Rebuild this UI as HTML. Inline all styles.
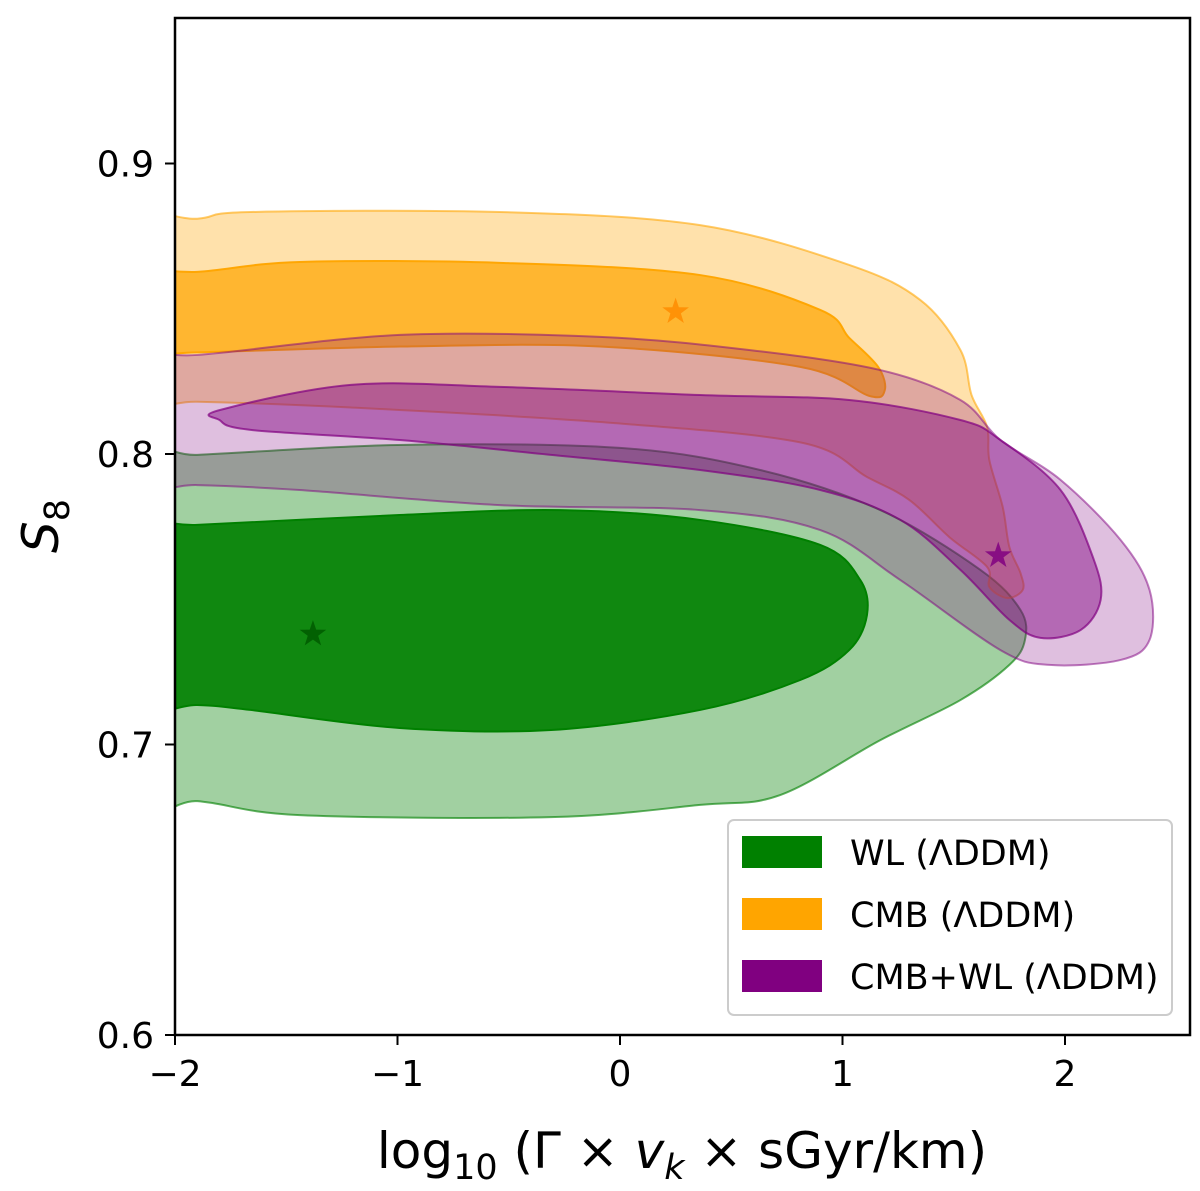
<!DOCTYPE html>
<html><head><meta charset="utf-8"><style>
body{margin:0;background:#fff;}
svg text{font-family:"DejaVu Sans","Liberation Sans",sans-serif;}
</style></head><body>
<svg id="chart" width="1200" height="1186" viewBox="0 0 1200 1186" xmlns="http://www.w3.org/2000/svg">
<defs><clipPath id="plotclip"><rect x="175" y="18" width="1015" height="1017"/></clipPath></defs>
<rect width="1200" height="1186" fill="#fff"/>
<g id="contours" clip-path="url(#plotclip)"></g>
<g id="stars"></g>
<rect x="175" y="18" width="1015" height="1017" fill="none" stroke="#000" stroke-width="2.5"/>
<g id="xticks"></g><g id="yticks"></g>
<text x="682" y="1168" font-size="50" text-anchor="middle">log<tspan font-size="35" dy="11">10</tspan><tspan dy="-11"> (Γ × </tspan><tspan font-style="italic">v</tspan><tspan font-style="italic" font-size="35" dy="11">k</tspan><tspan dy="-11"> × sGyr/km)</tspan></text>
<text transform="translate(58,526) rotate(-90)" font-size="50" text-anchor="middle"><tspan font-style="italic">S</tspan><tspan font-size="35" dy="11">8</tspan></text>
<g>
<rect x="728" y="820" width="444" height="195" rx="6" fill="#fff" fill-opacity="0.8" stroke="#ccc" stroke-width="2"/>
<rect x="742" y="836" width="80" height="32" fill="#008000"/>
<text x="850" y="865" font-size="35">WL (ΛDDM)</text>
<rect x="742" y="898" width="80" height="32" fill="#ffa500"/>
<text x="850" y="927" font-size="35">CMB (ΛDDM)</text>
<rect x="742" y="960" width="80" height="32" fill="#800080"/>
<text x="850" y="989" font-size="35">CMB+WL (ΛDDM)</text>
</g>
</svg>
<script>
const xTicks=[-2,-1,0,1,2];
const yTicks=[0.6,0.7,0.8,0.9];
const xTickLabels=["−2","−1","0","1","2"];
const yTickLabels=["0.6","0.7","0.8","0.9"];
const wlOuter=[[-2.3,0.7990],[-1.9,0.7997],[-1.0,0.8031],[0,0.8021],[0.63,0.7945],[1.17,0.7807],[1.62,0.7601],[1.80,0.7463],[1.82,0.736],[1.75,0.7274],[1.53,0.7153],[1.17,0.7015],[0.72,0.6826],[0.36,0.6792],[-0.31,0.6750],[-1.44,0.6757],[-1.9,0.6805],[-2.3,0.6810]];
const wlInner=[[-2.3,0.7750],[-1.9,0.7756],[-0.99,0.779],[-0.27,0.7807],[0.36,0.7773],[0.90,0.7687],[1.08,0.7566],[1.11,0.7446],[1.03,0.7325],[0.81,0.7222],[0.36,0.7119],[-0.31,0.705],[-0.99,0.7057],[-1.66,0.7119],[-1.9,0.7136],[-2.3,0.7140]];
const cmbOuter=[[-2.3,0.8790],[-1.9,0.8810],[-1.66,0.8833],[-0.54,0.8833],[0.36,0.8788],[1.03,0.8651],[1.35,0.853],[1.53,0.8358],[1.58,0.8203],[1.65,0.8093],[1.66,0.7979],[1.72,0.7818],[1.75,0.768],[1.80,0.759],[1.81,0.7532],[1.74,0.7504],[1.66,0.7542],[1.65,0.7611],[1.48,0.7714],[1.30,0.7842],[1.11,0.7921],[0.81,0.8040],[-0.09,0.8110],[-1.21,0.8160],[-1.9,0.8180],[-2.3,0.8180]];
const cmbInner=[[-2.3,0.8620],[-1.9,0.8627],[-1.44,0.8661],[-0.54,0.8658],[0.36,0.8616],[0.90,0.8496],[1.03,0.8400],[1.16,0.8300],[1.19,0.8220],[1.12,0.8200],[0.81,0.8300],[-0.09,0.8370],[-0.99,0.8370],[-1.9,0.8350],[-2.3,0.8350]];
const cmbwlOuter=[[-2.3,0.8335],[-1.9,0.8341],[-0.99,0.841],[-0.09,0.8403],[0.58,0.8358],[1.17,0.8289],[1.53,0.8186],[1.71,0.8048],[1.98,0.7911],[2.25,0.7704],[2.38,0.7532],[2.38,0.736],[2.25,0.7291],[1.93,0.7274],[1.71,0.7325],[1.26,0.7566],[0.90,0.7738],[0.36,0.7807],[-0.54,0.7824],[-1.44,0.7876],[-1.9,0.7893],[-2.3,0.7893]];
const cmbwlInner=[[-1.80,0.8151],[-1.21,0.8238],[-0.54,0.8231],[0.36,0.8203],[1.03,0.8186],[1.53,0.8117],[1.71,0.8048],[1.98,0.7876],[2.13,0.7635],[2.16,0.7497],[2.07,0.7394],[1.89,0.7367],[1.75,0.7429],[1.53,0.7601],[1.26,0.7773],[0.90,0.7876],[0.36,0.7945],[-0.31,0.7997],[-0.99,0.8048],[-1.66,0.8083],[-1.80,0.8117]];
const bestFitX=[-1.38,0.25,1.70];
const bestFitY=[0.738,0.849,0.765];
const NS="http://www.w3.org/2000/svg";
function sx(x){return 175+(x+2)*222.5;}
function sy(y){return 1035-(y-0.6)*2905;}
function smoothPath(pts){
 const p=pts.map(d=>[sx(d[0]),sy(d[1])]);const n=p.length;let s="M"+p[0][0]+","+p[0][1];
 for(let i=0;i<n;i++){const p0=p[(i-1+n)%n],p1=p[i],p2=p[(i+1)%n],p3=p[(i+2)%n];
  const c1=[p1[0]+(p2[0]-p0[0])/6,p1[1]+(p2[1]-p0[1])/6],c2=[p2[0]-(p3[0]-p1[0])/6,p2[1]-(p3[1]-p1[1])/6];
  s+=" C"+c1[0]+","+c1[1]+" "+c2[0]+","+c2[1]+" "+p2[0]+","+p2[1];}
 return s+"Z";}
const cg=document.getElementById('contours');
function addContour(pts,color,op,name){
 const e=document.createElementNS(NS,'path');
 e.setAttribute('d',smoothPath(pts));e.setAttribute('fill',color);e.setAttribute('fill-opacity',op);
 e.setAttribute('stroke',color);e.setAttribute('stroke-opacity',Math.min(1,op+0.25));e.setAttribute('stroke-width','2');
 
 
 cg.appendChild(e);}
addContour(wlOuter,'#008000',0.37,'wl-95-contour');
addContour(wlInner,'#008000',0.9,'wl-68-contour');
addContour(cmbOuter,'#ffa500',0.33,'cmb-95-contour');
addContour(cmbInner,'#ffa500',0.72,'cmb-68-contour');
addContour(cmbwlOuter,'#800080',0.25,'cmbwl-95-contour');
addContour(cmbwlInner,'#800080',0.45,'cmbwl-68-contour');
const starColors=['#005a00','#ff8c00','#800080'];
const starNames=['wl-best-fit-star','cmb-best-fit-star','cmbwl-best-fit-star'];
const sg=document.getElementById('stars');
for(let i=0;i<bestFitX.length;i++){
 const cx=sx(bestFitX[i]),cy=sy(bestFitY[i]);let d="";
 for(let k=0;k<10;k++){const r=k%2?5.5:14,a=-Math.PI/2+k*Math.PI/5;d+=(k?"L":"M")+(cx+r*Math.cos(a))+","+(cy+r*Math.sin(a));}
 const e=document.createElementNS(NS,'path');e.setAttribute('d',d+"Z");e.setAttribute('fill',starColors[i]);e.setAttribute('fill-opacity','0.85');
 
 
 sg.appendChild(e);}
const xg=document.getElementById('xticks');
xTicks.forEach((v,i)=>{const x=sx(v);
 const l=document.createElementNS(NS,'line');l.setAttribute('x1',x);l.setAttribute('x2',x);l.setAttribute('y1',1035);l.setAttribute('y2',1045);l.setAttribute('stroke','#000');l.setAttribute('stroke-width','2');
 
 
 xg.appendChild(l);
 const t=document.createElementNS(NS,'text');t.setAttribute('x',x);t.setAttribute('y',1086);t.setAttribute('font-size','36');t.setAttribute('text-anchor','middle');t.textContent=xTickLabels[i];
 
 
 xg.appendChild(t);});
const yg=document.getElementById('yticks');
yTicks.forEach((v,i)=>{const y=sy(v);
 const l=document.createElementNS(NS,'line');l.setAttribute('x1',165);l.setAttribute('x2',175);l.setAttribute('y1',y);l.setAttribute('y2',y);l.setAttribute('stroke','#000');l.setAttribute('stroke-width','2');
 
 
 yg.appendChild(l);
 const t=document.createElementNS(NS,'text');t.setAttribute('x',154);t.setAttribute('y',y+13);t.setAttribute('font-size','36');t.setAttribute('text-anchor','end');t.textContent=yTickLabels[i];
 
 
 yg.appendChild(t);});
</script>
</body></html>
